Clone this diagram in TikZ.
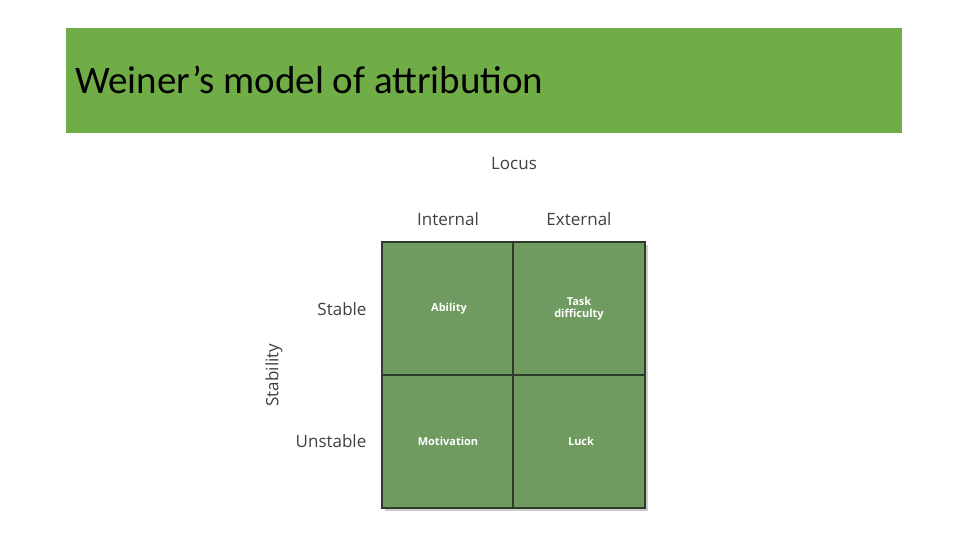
\documentclass[tikz,border=0pt]{standalone}
\usepackage{fontspec}
\setmainfont{Carlito}
\newfontfamily\lab{Open Sans}
\definecolor{titlegreen}{HTML}{70AD47}
\definecolor{cellgreen}{HTML}{6F9A60}
\definecolor{edge}{HTML}{2E3A2A}
\definecolor{labgray}{HTML}{404040}
\begin{document}
\begin{tikzpicture}[x=1pt,y=-1pt,
  axis/.style={font=\lab\fontsize{17}{19}\selectfont, text=labgray},
  cell/.style={font=\lab\bfseries\fontsize{11}{12}\selectfont, text=white, align=center},
  box/.style={draw=edge, line width=1.5pt, fill=cellgreen}]
\useasboundingbox (0,0) rectangle (960,540);
\fill[white] (0,0) rectangle (960,540);
\fill[titlegreen] (66,28) rectangle (902,133);
\node[anchor=base west, inner sep=0, font=\fontsize{39}{44}\selectfont] (title) at (75,94) {Weiner's model of attribution};
\fill[black!20] (385,245) rectangle (648,511);
\draw[box] (382,242) rectangle (513,375);
\draw[box] (513,242) rectangle (645,375);
\draw[box] (382,375) rectangle (513,508);
\draw[box] (513,375) rectangle (645,508);
\node[axis] (locus) at (514,164) {Locus};
\node[axis] (int) at (448,219) {Internal};
\node[axis] (ext) at (579,219) {External};
\node[axis] (st) at (342,309) {Stable};
\node[axis] (un) at (331,441) {Unstable};
\node[axis, rotate=90] (stab) at (274,375) {Stability};
\node[cell] (a) at (449,309) {Ability};
\node[cell] (t) at (579,309) {Task\\difficulty};
\node[cell] (m) at (448,441) {Motivation};
\node[cell] (l) at (581,441) {Luck};
\end{tikzpicture}
\end{document}
